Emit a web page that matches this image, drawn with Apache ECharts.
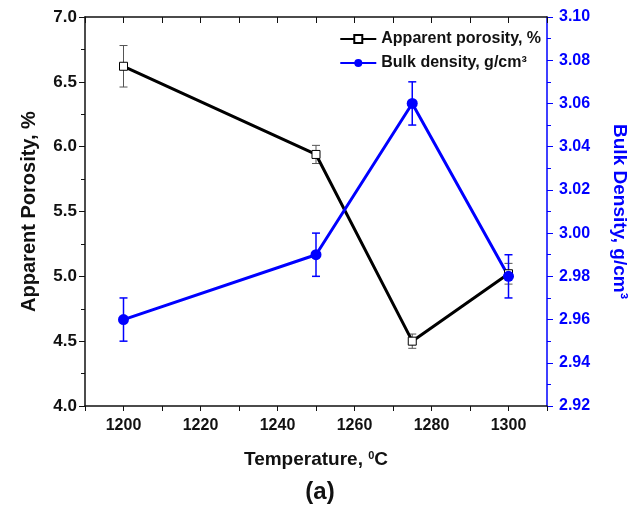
<!DOCTYPE html>
<html>
<head>
<meta charset="utf-8">
<script src="https://cdn.jsdelivr.net/npm/echarts@6/dist/echarts.min.js"></script>
<style>
  html, body { margin: 0; padding: 0; background: #fff; }
  #chart { width: 640px; height: 506px; }
</style>
</head>
<body>
<div id="chart"></div>
<script>
// data
const temps = [1200, 1250, 1275, 1300]
const porosity = [6.62, 5.94, 4.50, 5.02]
const porosityErr = [0.16, 0.07, 0.055, 0.08]
const density = [2.96, 2.99, 3.06, 2.98]
const densityErr = [0.01, 0.01, 0.01, 0.01]

const FONT = 'Liberation Sans'
const BLUE = '#0000ff'

const chart = echarts.init(document.getElementById('chart'))

// error bars drawn as custom series
function errorBars(values, errs, color, width, yAxisIndex) {
  return {
    type: 'custom',
    xAxisIndex: 0,
    yAxisIndex: yAxisIndex,
    silent: true,
    z: 1,
    data: temps.map((t, i) => [t, values[i] - errs[i], values[i] + errs[i]]),
    renderItem: function (params, api) {
      const lo = api.coord([api.value(0), api.value(1)])
      const hi = api.coord([api.value(0), api.value(2)])
      const w = 4
      const st = { stroke: color, lineWidth: width }
      return {
        type: 'group',
        children: [
          { type: 'line', shape: { x1: lo[0], y1: lo[1], x2: hi[0], y2: hi[1] }, style: st },
          { type: 'line', shape: { x1: lo[0] - w, y1: lo[1], x2: lo[0] + w, y2: lo[1] }, style: st },
          { type: 'line', shape: { x1: hi[0] - w, y1: hi[1], x2: hi[0] + w, y2: hi[1] }, style: st }
        ]
      }
    }
  }
}

const option = {
  animation: false,
  textStyle: { fontFamily: FONT },
  grid: { left: 85, right: 93, top: 17, bottom: 100 },
  legend: {
    right: 94,
    top: 26,
    orient: 'vertical',
    itemWidth: 36,
    itemHeight: 10,
    itemGap: 8,
    textStyle: { fontFamily: FONT, fontSize: 16, fontWeight: 'bold', color: '#111' },
    data: [
      { name: 'Apparent porosity, %' },
      { name: 'Bulk density, g/cm³' }
    ]
  },
  xAxis: [
    {
      type: 'value',
      min: 1190,
      max: 1310,
      interval: 10,
      name: '{a|Temperature, }{s|0}{a|C}',
      nameLocation: 'middle',
      nameGap: 44,
      nameTextStyle: {
        rich: {
          a: { fontFamily: FONT, fontSize: 19, fontWeight: 'bold', color: '#111' },
          s: { fontFamily: FONT, fontSize: 11, fontWeight: 'bold', color: '#111', verticalAlign: 'top', padding: [0, 0, 8, 0] }
        }
      },
      axisLine: { show: true, lineStyle: { color: '#111', width: 1.5 } },
      axisTick: { show: true, inside: false, length: 5, lineStyle: { color: '#111' } },
      axisLabel: {
        margin: 12,
        fontSize: 16,
        fontWeight: 'bold',
        color: '#111',
        formatter: v => (v % 20 === 0 ? String(v) : '')
      },
      splitLine: { show: false }
    },
    {
      type: 'value',
      position: 'top',
      min: 1190,
      max: 1310,
      interval: 10,
      axisLine: { show: true, lineStyle: { color: '#111', width: 1.5 } },
      axisTick: { show: true, inside: true, length: 6, lineStyle: { color: '#111' } },
      axisLabel: { show: false },
      splitLine: { show: false }
    }
  ],
  yAxis: [
    {
      type: 'value',
      position: 'left',
      min: 4.0,
      max: 7.0,
      interval: 0.5,
      name: 'Apparent Porosity, %',
      nameLocation: 'middle',
      nameGap: 46,
      nameTextStyle: { fontFamily: FONT, fontSize: 20, fontWeight: 'bold', color: '#111' },
      axisLine: { show: true, lineStyle: { color: '#111', width: 1.5 } },
      axisTick: { show: true, inside: false, length: 6, lineStyle: { color: '#111' } },
      minorTick: { show: true, splitNumber: 2, length: 4, lineStyle: { color: '#111' } },
      axisLabel: { margin: 8, fontSize: 17, fontWeight: 'bold', color: '#111', formatter: v => v.toFixed(1) },
      splitLine: { show: false }
    },
    {
      type: 'value',
      position: 'right',
      min: 2.92,
      max: 3.10,
      interval: 0.02,
      name: 'Bulk Density, g/cm³',
      nameLocation: 'middle',
      nameRotate: -90,
      nameGap: 63,
      nameTextStyle: { fontFamily: FONT, fontSize: 19, fontWeight: 'bold', color: BLUE },
      axisLine: { show: true, lineStyle: { color: BLUE, width: 1.5 } },
      axisTick: { show: true, inside: false, length: 6, lineStyle: { color: BLUE } },
      minorTick: { show: true, splitNumber: 2, length: 4, lineStyle: { color: BLUE } },
      axisLabel: { margin: 12, fontSize: 16, fontWeight: 'bold', color: BLUE, formatter: v => v.toFixed(2) },
      splitLine: { show: false }
    }
  ],
  graphic: [
    {
      type: 'text',
      left: 'center',
      top: 480,
      style: { text: '(a)', fontFamily: FONT, fontSize: 24, fontWeight: 'bold', fill: '#111' }
    }
  ],
  series: [
    errorBars(porosity, porosityErr, '#555', 1, 0),
    errorBars(density, densityErr, BLUE, 1.5, 1),
    {
      name: 'Apparent porosity, %',
      type: 'line',
      yAxisIndex: 0,
      data: temps.map((t, i) => [t, porosity[i]]),
      symbol: 'rect',
      symbolSize: 8,
      z: 3,
      lineStyle: { color: '#000', width: 3 },
      itemStyle: { color: '#fff', borderColor: '#000', borderWidth: 1 }
    },
    {
      name: 'Bulk density, g/cm³',
      type: 'line',
      yAxisIndex: 1,
      data: temps.map((t, i) => [t, density[i]]),
      symbol: 'circle',
      symbolSize: 11,
      z: 3,
      lineStyle: { color: BLUE, width: 3 },
      itemStyle: { color: BLUE }
    }
  ]
}

chart.setOption(option)
</script>
</body>
</html>
